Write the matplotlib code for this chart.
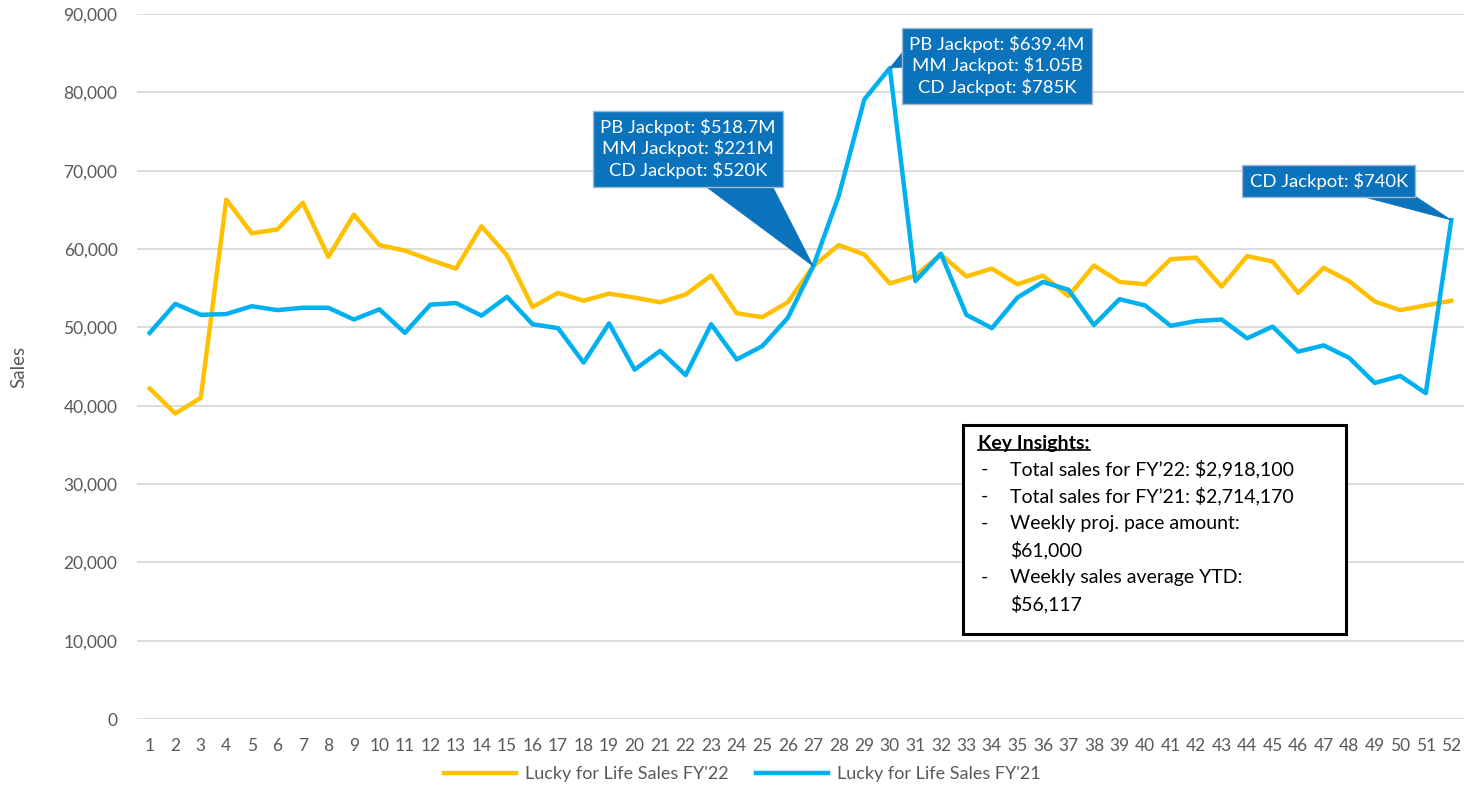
import matplotlib.pyplot as plt
from matplotlib.patches import Rectangle
from matplotlib.ticker import FuncFormatter

plt.rcParams['font.family'] = ['Lato', 'DejaVu Sans']

# weekly sales data
weeks = list(range(1, 53))
sales_fy22 = [42200, 39000, 41000, 66300, 62000, 62500, 65900, 59000, 64400, 60500,
              59800, 58600, 57500, 62900, 59200, 52600, 54400, 53400, 54300, 53800,
              53200, 54200, 56600, 51800, 51300, 53200, 57800, 60500, 59300, 55600,
              56600, 59300, 56500, 57500, 55500, 56600, 54000, 57900, 55800, 55500,
              58700, 58900, 55200, 59100, 58400, 54400, 57600, 55900, 53300, 52200,
              52800, 53400]
sales_fy21 = [49300, 53000, 51600, 51700, 52700, 52200, 52500, 52500, 51000, 52300,
              49300, 52900, 53100, 51500, 53900, 50400, 49900, 45500, 50500, 44600,
              47000, 43900, 50400, 45900, 47600, 51200, 57800, 66800, 79100, 83100,
              55900, 59400, 51600, 49900, 53800, 55800, 54800, 50300, 53600, 52800,
              50200, 50800, 51000, 48600, 50100, 46900, 47700, 46100, 42900, 43800,
              41600, 63700]

# callouts: text, week, text position (week, sales), wedge start on box, wedge width
callouts = [
    ("PB Jackpot: $518.7M\nMM Jackpot: $221M\nCD Jackpot: $520K", 27, (22.1, 72800), (0.72, 0.25), 3.4),
    ("PB Jackpot: $639.4M\nMM Jackpot: $1.05B\nCD Jackpot: $785K", 30, (34.2, 83400), (0.06, 0.72), 1.6),
    ("CD Jackpot: $740K", 52, (47.2, 68700), (0.72, 0.5), 1.7),
]

insights = [
    ("-", "Total sales for FY\u201922: $2,918,100"),
    ("-", "Total sales for FY\u201921: $2,714,170"),
    ("-", "Weekly proj. pace amount:"),
    ("", "$61,000"),
    ("-", "Weekly sales average YTD:"),
    ("", "$56,117"),
]

yellow = '#FFC000'
blue = '#00B0F0'
callout_color = '#0B73BC'
grey = '#595959'

fig = plt.figure(figsize=(14.79, 7.96), dpi=100)
ax = fig.add_axes([0.0926, 0.0967, 0.8973, 0.8857])

ax.plot(weeks, sales_fy22, color=yellow, lw=3.2, label="Lucky for Life Sales FY'22", zorder=3)
ax.plot(weeks, sales_fy21, color=blue, lw=3.2, label="Lucky for Life Sales FY'21", zorder=3)

ax.set_xlim(0.5, 52.5)
ax.set_ylim(0, 90000)
ax.set_yticks(range(0, 90001, 10000))
ax.set_xticks(weeks)
ax.yaxis.set_major_formatter(FuncFormatter(lambda v, p: f'{int(v):,}'))
ax.grid(axis='y', color='#D9D9D9', lw=1.3)
ax.set_axisbelow(True)
for s in ax.spines.values():
    s.set_visible(False)
ax.tick_params(length=0, labelcolor=grey, labelsize=12.5)
ax.tick_params(axis='x', pad=14)
ax.tick_params(axis='y', pad=14)
ax.set_ylabel('Sales', color=grey, fontsize=13.5, labelpad=26)

# callouts
for txt, wk, pos, rel, tw in callouts:
    yv = sales_fy21[wk - 1]
    ax.annotate(txt, xy=(wk, yv), xytext=pos, ha='center', va='center',
                color='white', fontsize=13.3, linespacing=1.3, zorder=5,
                bbox=dict(boxstyle='square,pad=0.4', fc=callout_color, ec='#9DB8D2', lw=1),
                arrowprops=dict(arrowstyle=f'wedge,tail_width={tw},shrink_factor=0.5',
                                fc=callout_color, ec=callout_color, lw=0.5,
                                patchA=None, relpos=rel, shrinkA=0, shrinkB=0))

# key insights box
ax.add_patch(Rectangle((0.6225, 0.1206), 0.2886, 0.2964, transform=ax.transAxes,
                       fill=True, fc='white', ec='black', lw=2.2, zorder=6))
head = ax.text(0.634, 0.391, 'Key Insights:', transform=ax.transAxes, fontsize=14,
               fontweight='bold', va='center', zorder=7)
for i, (dash, line) in enumerate(insights):
    yy = 0.354 - i * 0.0383
    ax.text(0.636, yy, dash, transform=ax.transAxes, fontsize=14, va='center', zorder=7)
    ax.text(0.658, yy, line, transform=ax.transAxes, fontsize=14, va='center', zorder=7)
fig.canvas.draw()
bb = head.get_window_extent().transformed(ax.transAxes.inverted())
ax.plot([bb.x0, bb.x1], [bb.y0 + 0.003, bb.y0 + 0.003], color='black', lw=1.2,
        transform=ax.transAxes, zorder=7)

ax.legend(loc='center', bbox_to_anchor=(0.456, -0.078), ncol=2, frameon=False,
          fontsize=13, labelcolor=grey, handlelength=4.0, handletextpad=0.5,
          columnspacing=1.5)

fig.savefig('out.png', dpi=100)
